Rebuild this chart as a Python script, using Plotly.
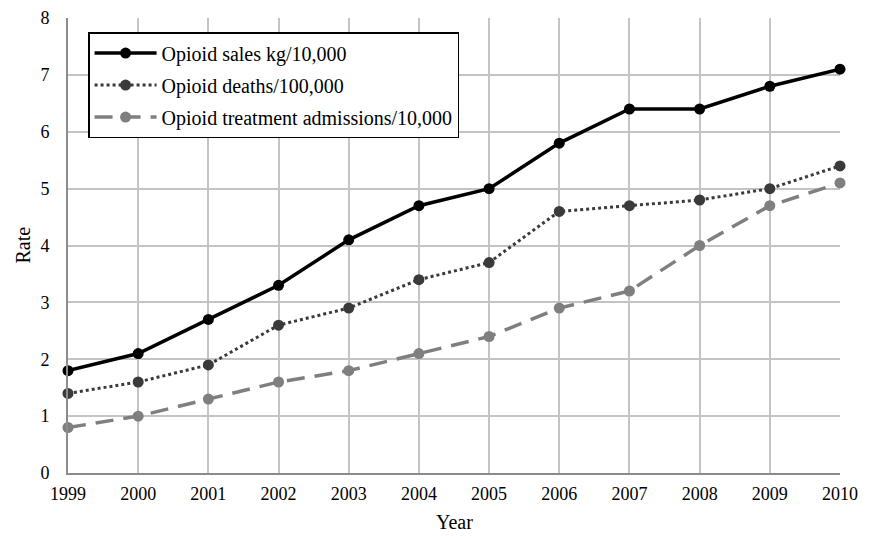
import plotly.graph_objects as go

years = [1999, 2000, 2001, 2002, 2003, 2004, 2005, 2006, 2007, 2008, 2009, 2010]
sales = [1.8, 2.1, 2.7, 3.3, 4.1, 4.7, 5.0, 5.8, 6.4, 6.4, 6.8, 7.1]
deaths = [1.4, 1.6, 1.9, 2.6, 2.9, 3.4, 3.7, 4.6, 4.7, 4.8, 5.0, 5.4]
treatment = [0.8, 1.0, 1.3, 1.6, 1.8, 2.1, 2.4, 2.9, 3.2, 4.0, 4.7, 5.1]

FONT = "Liberation Serif, Times New Roman, serif"

fig = go.Figure()
fig.add_trace(go.Scatter(x=years, y=sales, name="Opioid sales kg/10,000",
                         mode="lines+markers", cliponaxis=False, legendgroup="a",
                         line=dict(color="#000000", width=3.5),
                         marker=dict(color="#000000", size=11)))
fig.add_trace(go.Scatter(x=years, y=deaths, name="Opioid deaths/100,000",
                         mode="lines+markers", cliponaxis=False, legendgroup="b",
                         line=dict(color="#3a3a3a", width=3, dash="dot"),
                         marker=dict(color="#3a3a3a", size=11)))
fig.add_trace(go.Scatter(x=years, y=treatment, name="Opioid treatment admissions/10,000",
                         mode="lines+markers", cliponaxis=False, legendgroup="c",
                         line=dict(color="#7f7f7f", width=3.5, dash="18px,10px"),
                         marker=dict(color="#7f7f7f", size=11)))

fig.update_layout(
    width=872, height=536,
    margin=dict(l=68, r=32, t=18, b=63, autoexpand=False),
    paper_bgcolor="white", plot_bgcolor="white",
    font=dict(family=FONT, size=18, color="#000000"),
    legend=dict(x=0.026, y=0.969, xanchor="left", yanchor="top",
                bgcolor="white", bordercolor="#000000", borderwidth=1.5,
                font=dict(family=FONT, size=20), tracegroupgap=3, itemwidth=62),
    xaxis=dict(range=[1999, 2010], tickmode="array", tickvals=years,
               ticktext=[str(y) for y in years], automargin=False,
               showgrid=True, gridcolor="#c4c4c4", gridwidth=1.5,
               showline=True, linecolor="#8c8c8c", linewidth=2,
               zeroline=False, ticks="", ticklabelstandoff=3,
               tickfont=dict(family=FONT, size=18)),
    yaxis=dict(range=[0, 8], dtick=1, automargin=False,
               showgrid=True, gridcolor="#c4c4c4", gridwidth=1.5,
               showline=True, linecolor="#8c8c8c", linewidth=2,
               zeroline=False, ticks="", ticklabelstandoff=13,
               tickfont=dict(family=FONT, size=18)),
    annotations=[
        dict(text="Year", xref="paper", yref="paper", x=0.5, y=0,
             xanchor="center", yanchor="middle", yshift=-49, showarrow=False,
             font=dict(family=FONT, size=20)),
        dict(text="Rate", xref="paper", yref="paper", x=0, y=0.5, textangle=-90,
             xanchor="center", yanchor="middle", xshift=-46, showarrow=False,
             font=dict(family=FONT, size=20)),
    ],
)

fig.write_html("out.html", config={"displayModeBar": False},
               post_script="document.body.style.margin='0px';document.body.style.overflow='hidden';")
